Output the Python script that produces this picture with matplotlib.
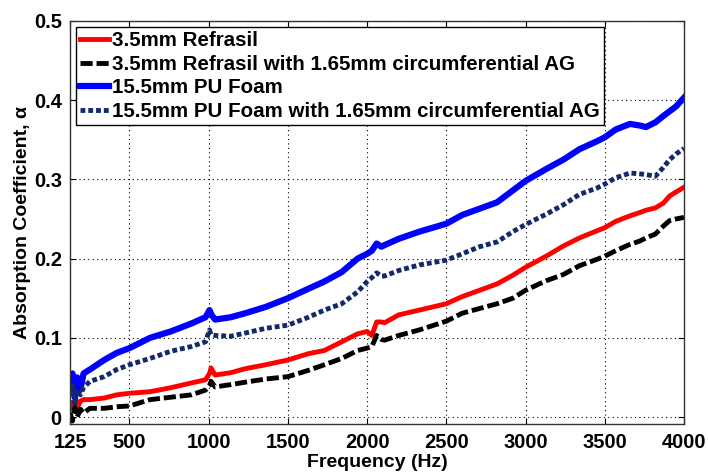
import matplotlib
matplotlib.use('Agg')
import matplotlib.pyplot as plt

plt.rcParams['font.family'] = ['Liberation Sans', 'DejaVu Sans']
plt.rcParams['font.weight'] = 'bold'

# frequencies (Hz)
freq = [125, 140, 155, 170, 190, 210, 250, 340, 420, 500, 630, 760, 890, 980,
        1005, 1015, 1040, 1140, 1230, 1360, 1500, 1630, 1730, 1840, 1940, 2000,
        2030, 2060, 2090, 2110, 2200, 2330, 2500, 2600, 2710, 2820, 2920, 3000,
        3130, 3240, 3340, 3450, 3500, 3570, 3660, 3720, 3760, 3820, 3870, 3910,
        3950, 4000]

refrasil = [0.018, 0.010, 0.022, 0.012, 0.020, 0.022, 0.022, 0.024, 0.028, 0.030,
            0.032, 0.037, 0.043, 0.047, 0.055, 0.062, 0.053, 0.056, 0.061, 0.066,
            0.072, 0.080, 0.084, 0.095, 0.105, 0.108, 0.103, 0.120, 0.120, 0.119,
            0.129, 0.135, 0.143, 0.152, 0.160, 0.168, 0.179, 0.189, 0.203, 0.216,
            0.226, 0.235, 0.239, 0.247, 0.254, 0.258, 0.261, 0.264, 0.270, 0.279,
            0.284, 0.290]

refrasil_ag = [0.005, -0.005, 0.012, 0.000, 0.010, 0.005, 0.011, 0.011, 0.013, 0.014,
               0.022, 0.025, 0.028, 0.034, 0.040, 0.045, 0.038, 0.041, 0.044, 0.048,
               0.051, 0.059, 0.066, 0.074, 0.084, 0.087, 0.089, 0.103, 0.098, 0.097,
               0.103, 0.110, 0.121, 0.131, 0.137, 0.143, 0.150, 0.160, 0.172, 0.180,
               0.191, 0.199, 0.203, 0.210, 0.218, 0.222, 0.226, 0.231, 0.241, 0.248,
               0.250, 0.252]

foam = [0.040, 0.055, 0.025, 0.050, 0.035, 0.055, 0.060, 0.072, 0.081, 0.087,
        0.100, 0.108, 0.118, 0.126, 0.135, 0.130, 0.123, 0.126, 0.131, 0.139,
        0.150, 0.162, 0.171, 0.183, 0.200, 0.206, 0.210, 0.219, 0.215, 0.217,
        0.225, 0.234, 0.244, 0.255, 0.263, 0.271, 0.286, 0.298, 0.313, 0.325,
        0.338, 0.348, 0.353, 0.363, 0.370, 0.368, 0.366, 0.372, 0.380, 0.386,
        0.392, 0.403]

foam_ag = [0.030, 0.040, 0.015, 0.035, 0.028, 0.037, 0.045, 0.051, 0.060, 0.066,
           0.074, 0.083, 0.089, 0.095, 0.110, 0.104, 0.103, 0.102, 0.106, 0.112,
           0.116, 0.126, 0.135, 0.143, 0.158, 0.171, 0.176, 0.182, 0.178, 0.178,
           0.185, 0.192, 0.198, 0.206, 0.215, 0.221, 0.234, 0.243, 0.256, 0.268,
           0.281, 0.289, 0.294, 0.302, 0.308, 0.307, 0.306, 0.304, 0.315, 0.325,
           0.332, 0.339]

labels = ['3.5mm Refrasil',
          '3.5mm Refrasil with 1.65mm circumferential AG',
          '15.5mm PU Foam',
          '15.5mm PU Foam with 1.65mm circumferential AG']
xticks = [125, 500, 1000, 1500, 2000, 2500, 3000, 3500, 4000]
yticks = [0, 0.1, 0.2, 0.3, 0.4, 0.5]

fig = plt.figure(figsize=(7.08, 4.75), dpi=100)
ax = fig.add_axes([0.099, 0.107, 0.867, 0.849])

ax.plot(freq, refrasil, color='#ff0000', lw=3.5, label=labels[0])
ax.plot(freq, refrasil_ag, color='black', lw=3.5, ls=(0, (2.5, 0.8)), label=labels[1])
ax.plot(freq, foam, color='#0000ff', lw=4.5, label=labels[2])
ax.plot(freq, foam_ag, color='#13296b', lw=3.5, ls=(0, (1, 0.6)), label=labels[3])

ax.set_xlim(125, 4000)
ax.set_ylim(-0.009, 0.5)
ax.set_xticks(xticks)
ax.set_xticklabels([str(t) for t in xticks])
ax.set_yticks(yticks)
ax.set_yticklabels(['0', '0.1', '0.2', '0.3', '0.4', '0.5'])
ax.tick_params(direction='in', top=True, right=True, labelsize=14.5, length=4, pad=6)
ax.grid(True, color='black', ls=(0, (1, 3)), lw=0.8)
for s in ax.spines.values():
    s.set_color('#333333')
    s.set_linewidth(1)

ax.set_xlabel('Frequency (Hz)', fontsize=14, fontweight='bold', labelpad=2)
ax.set_ylabel('Absorption Coefficient, α', fontsize=14, fontweight='bold', labelpad=2)

leg = ax.legend(loc='upper left', handlelength=1.4, handletextpad=0.15,
                borderaxespad=0.3, borderpad=0.2, labelspacing=0.22, fancybox=False,
                framealpha=1, edgecolor='black', prop={'weight': 'bold', 'size': 14.8})
leg.get_frame().set_linewidth(1)

fig.savefig('out.png', dpi=100)
